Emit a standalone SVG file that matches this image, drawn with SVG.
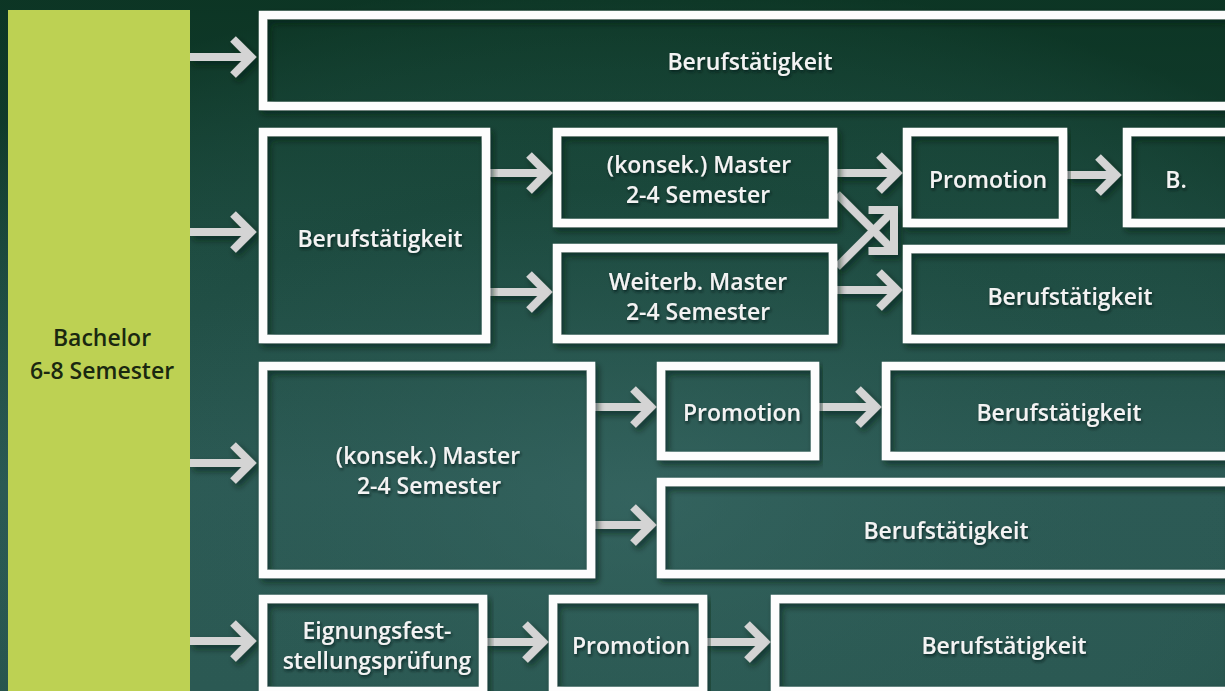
<svg xmlns="http://www.w3.org/2000/svg" width="1225" height="691" viewBox="0 0 1225 691">
  <defs>
    <linearGradient id="bgv" x1="0" y1="0" x2="0" y2="1">
      <stop offset="0" stop-color="#0f3b29"/>
      <stop offset="0.35" stop-color="#1d4b40"/>
      <stop offset="0.7" stop-color="#2c5a55"/>
      <stop offset="1" stop-color="#2b5953"/>
    </linearGradient>
    <radialGradient id="bgr" cx="0.52" cy="0.72" r="0.75">
      <stop offset="0" stop-color="#3a6a66" stop-opacity="0.55"/>
      <stop offset="0.6" stop-color="#2a5a52" stop-opacity="0"/>
      <stop offset="1" stop-color="#0a3020" stop-opacity="0.5"/>
    </radialGradient>
    <filter id="sh" x="-5%" y="-10%" width="110%" height="130%">
      <feDropShadow dx="3" dy="4" stdDeviation="3" flood-color="#051a12" flood-opacity="0.6"/>
    </filter>
    <filter id="tsh" x="-10%" y="-30%" width="120%" height="160%">
      <feDropShadow dx="1" dy="2" stdDeviation="1.5" flood-color="#061a14" flood-opacity="0.8"/>
    </filter>
    <marker id="ah" markerUnits="userSpaceOnUse" viewBox="-30 -30 40 60" refX="0" refY="0" markerWidth="40" markerHeight="60" orient="auto" overflow="visible">
      <path d="M -18 -18 L 0 0 L -18 18" fill="none" stroke="#d4d4d4" stroke-width="8" stroke-linejoin="miter"/>
    </marker>
    <style>
      .box { fill: none; stroke: #fdfdfd; stroke-width: 8.5; }
      .t { fill: #f3f3f3; font-family: "Open Sans", "Liberation Sans", sans-serif; font-weight: 600; font-size: 23px; text-anchor: middle; }
      .tb { fill: #1a2810; font-family: "Open Sans", "Liberation Sans", sans-serif; font-weight: 600; font-size: 23px; text-anchor: middle; }
      .c { fill: none; stroke: #d4d4d4; stroke-width: 8; marker-end: url(#ah); }
    </style>
  </defs>

  <rect x="0" y="0" width="1225" height="691" fill="url(#bgv)"/>
  <rect x="0" y="0" width="1225" height="691" fill="url(#bgr)"/>

  <g id="connectors" filter="url(#sh)">
    <path class="c" d="M190 57 H251"/>
    <path class="c" d="M190 232 H251"/>
    <path class="c" d="M490 173 H547"/>
    <path class="c" d="M490 292 H547"/>
    <path class="c" d="M837 173 H897"/>
    <path class="c" d="M837 290 H897"/>
    <path class="c" d="M837 194 L894 251"/>
    <path class="c" d="M837 267 L894 210"/>
    <path class="c" d="M1067 175 H1116"/>
    <path class="c" d="M190 463 H251"/>
    <path class="c" d="M595 407 H651"/>
    <path class="c" d="M595 525 H651"/>
    <path class="c" d="M819 407 H876"/>
    <path class="c" d="M190 641 H251"/>
    <path class="c" d="M487 642 H543"/>
    <path class="c" d="M707 642 H765"/>
  </g>

  <g id="bachelor">
    <rect x="8" y="10" width="182" height="690" fill="#bdd153"/>
    <text class="tb" x="102" y="346">Bachelor</text>
    <text class="tb" x="102" y="379">6-8 Semester</text>
  </g>

  <g id="beruf-top">
    <rect class="box" x="263" y="15" width="968" height="91" filter="url(#sh)"/>
    <text class="t" x="750" y="70" filter="url(#tsh)">Berufstätigkeit</text>
  </g>

  <g id="beruf-mid">
    <rect class="box" x="263" y="132" width="223" height="207" filter="url(#sh)"/>
    <text class="t" x="380" y="247" filter="url(#tsh)">Berufstätigkeit</text>
  </g>

  <g id="master-konsek-1">
    <rect class="box" x="557" y="132" width="276" height="91" filter="url(#sh)"/>
    <text class="t" x="699" y="173" filter="url(#tsh)">(konsek.) Master</text>
    <text class="t" x="698" y="203" filter="url(#tsh)">2-4 Semester</text>
  </g>

  <g id="master-weiterb">
    <rect class="box" x="557" y="248" width="276" height="91" filter="url(#sh)"/>
    <text class="t" x="698" y="290" filter="url(#tsh)">Weiterb. Master</text>
    <text class="t" x="698" y="320" filter="url(#tsh)">2-4 Semester</text>
  </g>

  <g id="promotion-1">
    <rect class="box" x="907" y="132" width="156" height="91" filter="url(#sh)"/>
    <text class="t" x="988" y="188" filter="url(#tsh)">Promotion</text>
  </g>

  <g id="b-1">
    <rect class="box" x="1127" y="132" width="104" height="91" filter="url(#sh)"/>
    <text class="t" x="1176" y="188" filter="url(#tsh)">B.</text>
  </g>

  <g id="beruf-2">
    <rect class="box" x="907" y="249" width="324" height="90" filter="url(#sh)"/>
    <text class="t" x="1070" y="305" filter="url(#tsh)">Berufstätigkeit</text>
  </g>

  <g id="master-konsek-2">
    <rect class="box" x="263" y="366" width="328" height="208" filter="url(#sh)"/>
    <text class="t" x="428" y="464" filter="url(#tsh)">(konsek.) Master</text>
    <text class="t" x="429" y="494" filter="url(#tsh)">2-4 Semester</text>
  </g>

  <g id="promotion-2">
    <rect class="box" x="661" y="366" width="154" height="90" filter="url(#sh)"/>
    <text class="t" x="742" y="421" filter="url(#tsh)">Promotion</text>
  </g>

  <g id="beruf-3">
    <rect class="box" x="886" y="366" width="345" height="90" filter="url(#sh)"/>
    <text class="t" x="1059" y="421" filter="url(#tsh)">Berufstätigkeit</text>
  </g>

  <g id="beruf-4">
    <rect class="box" x="661" y="482" width="570" height="92" filter="url(#sh)"/>
    <text class="t" x="946" y="539" filter="url(#tsh)">Berufstätigkeit</text>
  </g>

  <g id="eignung">
    <rect class="box" x="263" y="599" width="220" height="92" filter="url(#sh)"/>
    <text class="t" x="377" y="639" filter="url(#tsh)">Eignungsfest-</text>
    <text class="t" x="377" y="669" filter="url(#tsh)">stellungsprüfung</text>
  </g>

  <g id="promotion-3">
    <rect class="box" x="553" y="599" width="150" height="92" filter="url(#sh)"/>
    <text class="t" x="631" y="654" filter="url(#tsh)">Promotion</text>
  </g>

  <g id="beruf-5">
    <rect class="box" x="775" y="599" width="456" height="92" filter="url(#sh)"/>
    <text class="t" x="1004" y="654" filter="url(#tsh)">Berufstätigkeit</text>
  </g>
</svg>
